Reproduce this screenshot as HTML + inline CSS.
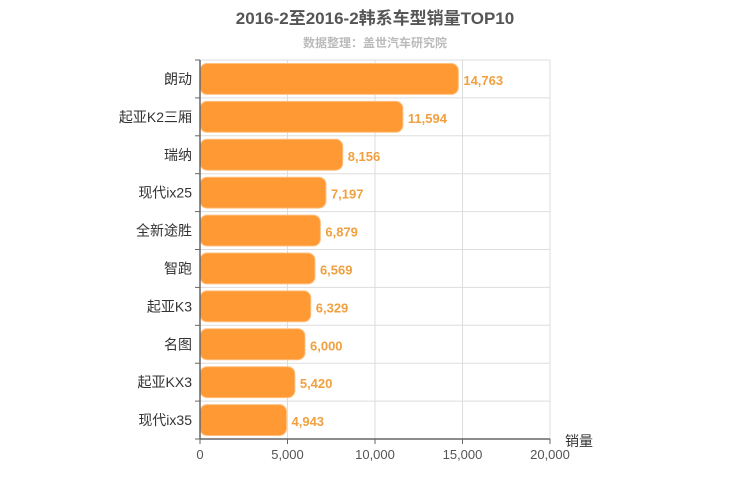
<!DOCTYPE html>
<html><head><meta charset="utf-8"><style>
body{margin:0;background:#fff;}
svg{display:block;font-family:"Liberation Sans","Noto Sans CJK SC",sans-serif;}
</style></head><body>
<svg id="c" width="750" height="500"></svg>
<script>
const categories=["朗动","起亚K2三厢","瑞纳","现代ix25","全新途胜","智跑","起亚K3","名图","起亚KX3","现代ix35"];
const values=[14763,11594,8156,7197,6879,6569,6329,6000,5420,4943];
const ticks=[0,5000,10000,15000,20000];
const tickLabels=["0","5,000","10,000","15,000","20,000"];
const svg=document.getElementById('c');
const NS='http://www.w3.org/2000/svg';
const X0=200,X1=550,Y0=60,Y1=439,MAX=20000;
const x=v=>X0+(v/MAX)*(X1-X0);
const rowH=(Y1-Y0)/categories.length;
function mk(t,a,txt){const e=document.createElementNS(NS,t);for(const k in a)e.setAttribute(k,a[k]);if(txt!=null)e.textContent=txt;svg.appendChild(e);return e;}
let e;
e=mk('text',{x:375,y:24,'text-anchor':'middle','font-size':17,'font-weight':'bold',fill:'#555'},'2016-2至2016-2韩系车型销量TOP10');


e=mk('text',{x:375,y:47,'text-anchor':'middle','font-size':12,'font-weight':'bold',fill:'#bbb'},'数据整理：盖世汽车研究院');


ticks.forEach((t,i)=>{
 if(i>0){e=mk('line',{x1:x(t),x2:x(t),y1:Y0,y2:Y1,stroke:'#ddd'});
 
 }
 e=mk('line',{x1:x(t),x2:x(t),y1:Y1,y2:Y1+5,stroke:'#666'});
 
 
 e=mk('text',{x:x(t),y:Y1+20,'text-anchor':'middle','font-size':13,fill:'#555'},tickLabels[i]);
 
 
});
for(let i=0;i<=categories.length;i++){
 const y=Y0+i*rowH;
 if(i<categories.length){e=mk('line',{x1:X0,x2:X1,y1:y,y2:y,stroke:'#ddd'});
 
 }
 e=mk('line',{x1:X0-5,x2:X0,y1:y,y2:y,stroke:'#666'});
 
 
}
categories.forEach((c,i)=>{
 const yt=Y0+i*rowH;
 e=mk('rect',{x:X0,y:yt+3.5,width:x(values[i])-X0,height:rowH-7,rx:7,fill:'#ff9933',stroke:'#ffc080','stroke-width':1});
 
 
 e=mk('text',{x:X0-8,y:yt+rowH/2+5,'text-anchor':'end','font-size':14,fill:'#333'},c);
 
 
 e=mk('text',{x:x(values[i])+5,y:yt+rowH/2+6,'font-size':13,'font-weight':'bold',fill:'#f0a040'},values[i].toLocaleString('en-US'));
 
 
});
e=mk('line',{x1:X0,x2:X0,y1:Y0,y2:Y1,stroke:'#666','stroke-width':1.5});


e=mk('line',{x1:X0,x2:X1,y1:Y1,y2:Y1,stroke:'#666','stroke-width':1.5});


e=mk('text',{x:565,y:446,'font-size':14,fill:'#333'},'销量');


</script>
</body></html>
